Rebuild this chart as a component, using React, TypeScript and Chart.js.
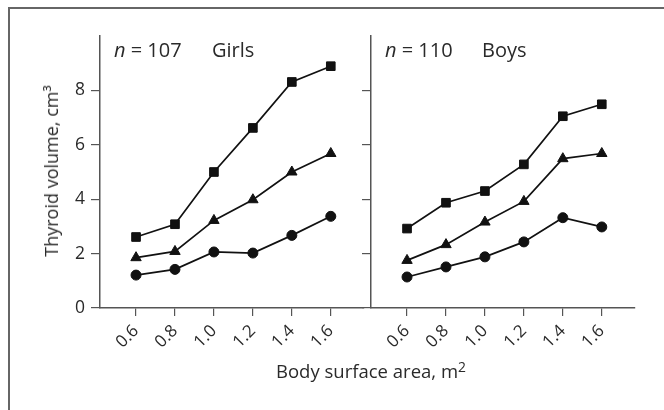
import React, { useEffect, useRef } from "react";
import { Chart, registerables } from "chart.js";

Chart.register(...registerables);

// ---- data ----
const X_VALUES = [0.6, 0.8, 1.0, 1.2, 1.4, 1.6];
const X_TICKS = [0.6, 0.8, 1.0, 1.2, 1.4, 1.6];
const Y_TICKS = [0, 2, 4, 6, 8];

const GIRLS_SQUARE = [2.61, 3.08, 5.0, 6.62, 8.31, 8.89];
const GIRLS_TRIANGLE = [1.85, 2.08, 3.22, 3.98, 5.0, 5.68];
const GIRLS_CIRCLE = [1.21, 1.42, 2.06, 2.02, 2.67, 3.37];

const BOYS_SQUARE = [2.92, 3.87, 4.3, 5.28, 7.05, 7.49];
const BOYS_TRIANGLE = [1.75, 2.33, 3.16, 3.92, 5.49, 5.68];
const BOYS_CIRCLE = [1.14, 1.51, 1.88, 2.43, 3.32, 2.98];

const FONT = "'Open Sans', 'Noto Sans', sans-serif";
const AXIS_COLOR = "#555";
const TEXT_COLOR = "#2a2a2a";
const LINE_COLOR = "#111";

type PanelProps = {
  left: number;
  width: number;
  yAxisWidth: number;
  showYLabels: boolean;
  square: number[];
  triangle: number[];
  circle: number[];
};

function Panel({ left, width, yAxisWidth, showYLabels, square, triangle, circle }: PanelProps) {
  const ref = useRef<HTMLCanvasElement | null>(null);

  useEffect(() => {
    if (!ref.current) return;
    const mk = (vals: number[], style: string, radius: number) => ({
      data: X_VALUES.map((x, i) => ({ x, y: vals[i] })),
      borderColor: LINE_COLOR,
      backgroundColor: LINE_COLOR,
      borderWidth: 1.7,
      pointStyle: style,
      pointRadius: radius,
      pointBorderWidth: 1,
      pointBorderColor: LINE_COLOR,
      pointBackgroundColor: LINE_COLOR,
      tension: 0,
      showLine: true,
    });
    const chart = new Chart(ref.current, {
      type: "scatter",
      data: {
        datasets: [
          mk(square, "rect", 6.1),
          mk(triangle, "triangle", 6.0),
          mk(circle, "circle", 5.0),
        ] as any,
      },
      options: {
        responsive: false,
        animation: false,
        events: [],
        layout: { padding: { top: 36, left: 0, right: 0, bottom: 0 } },
        plugins: { legend: { display: false }, tooltip: { enabled: false } },
        scales: {
          x: {
            type: "linear",
            min: 0.415,
            max: 1.77,
            afterFit: (s: any) => {
              s.height = 102;
            },
            afterBuildTicks: (s: any) => {
              s.ticks = X_TICKS.map((v) => ({ value: v }));
            },
            ticks: {
              autoSkip: false,
              minRotation: 45,
              maxRotation: 45,
              padding: 5,
              color: TEXT_COLOR,
              font: { family: FONT, size: 17 },
              callback: (v: any) => Number(v).toFixed(1),
            },
            grid: {
              drawOnChartArea: false,
              drawTicks: true,
              tickLength: 8,
              color: AXIS_COLOR,
              lineWidth: 1.2,
            },
            border: { color: AXIS_COLOR, width: 1.5 },
          },
          y: {
            type: "linear",
            min: 0,
            max: 10,
            afterFit: (s: any) => {
              s.width = yAxisWidth;
            },
            afterBuildTicks: (s: any) => {
              s.ticks = Y_TICKS.map((v) => ({ value: v }));
            },
            ticks: {
              display: showYLabels,
              padding: 6,
              color: TEXT_COLOR,
              font: { family: FONT, size: 17.5 },
            },
            grid: {
              drawOnChartArea: false,
              drawTicks: true,
              tickLength: 9,
              color: AXIS_COLOR,
              lineWidth: 1.2,
            },
            border: { color: AXIS_COLOR, width: 1.5 },
          },
        },
      } as any,
    });
    return () => chart.destroy();
  }, []);

  return (
    <canvas
      ref={ref}
      width={width}
      height={410}
      style={{ position: "absolute", left, top: 0, width, height: 410 }}
    />
  );
}

const label: React.CSSProperties = {
  position: "absolute",
  fontFamily: FONT,
  color: TEXT_COLOR,
  whiteSpace: "nowrap",
  lineHeight: 1,
};

export default function App() {
  return (
    <div
      style={{
        position: "fixed",
        left: 0,
        top: 0,
        width: 664,
        height: 410,
        overflow: "hidden",
        background: "#fff",
      }}
    >
      <div
        style={{
          position: "absolute",
          left: 8,
          top: 7,
          width: 800,
          height: 600,
          borderTop: "2px solid #666",
          borderLeft: "2px solid #666",
        }}
      />
      <Panel
        left={0}
        width={371}
        yAxisWidth={100}
        showYLabels={true}
        square={GIRLS_SQUARE}
        triangle={GIRLS_TRIANGLE}
        circle={GIRLS_CIRCLE}
      />
      <Panel
        left={359}
        width={283}
        yAxisWidth={12}
        showYLabels={false}
        square={BOYS_SQUARE}
        triangle={BOYS_TRIANGLE}
        circle={BOYS_CIRCLE}
      />
      <div style={{ ...label, left: 114, top: 40, fontSize: 20 }}>
        <i>n</i> = 107
      </div>
      <div style={{ ...label, left: 212, top: 40, fontSize: 20 }}>Girls</div>
      <div style={{ ...label, left: 385, top: 40, fontSize: 20 }}>
        <i>n</i> = 110
      </div>
      <div style={{ ...label, left: 482, top: 40, fontSize: 20 }}>Boys</div>
      <div
        style={{
          ...label,
          left: 51,
          top: 171,
          fontSize: 18,
          transform: "translate(-50%, -50%) rotate(-90deg)",
        }}
      >
        Thyroid volume, cm³
      </div>
      <div
        style={{
          ...label,
          left: 371,
          top: 370,
          fontSize: 18.5,
          transform: "translate(-50%, -50%)",
        }}
      >
        Body surface area, m<sup style={{ fontSize: "0.75em", verticalAlign: "0.45em" }}>2</sup>
      </div>
    </div>
  );
}
